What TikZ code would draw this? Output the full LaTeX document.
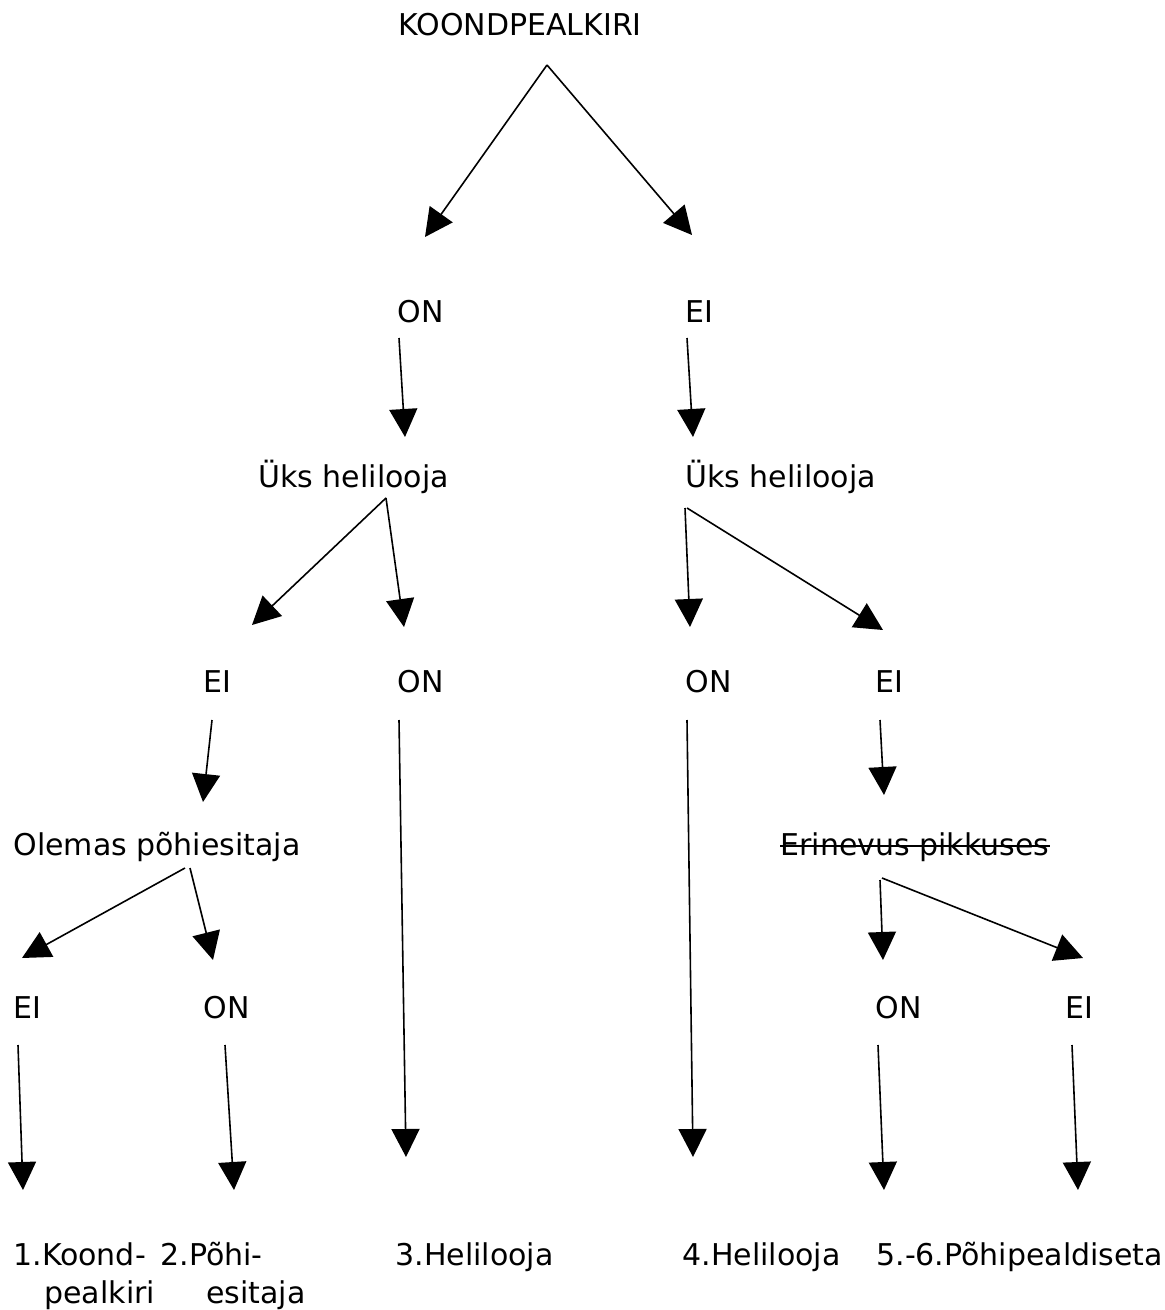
\documentclass[tikz,border=0pt]{standalone}
\usepackage{fontspec}
\setmainfont{DejaVu Sans}
\usetikzlibrary{arrows.meta}
\tikzstyle{lbl} = [inner sep=0pt,anchor=base west,font=\fontsize{15}{19}\selectfont]
\tikzstyle{arr} = [-{Triangle[length=14pt,width=14pt]},line width=0.8pt]

\begin{document}
\begin{tikzpicture}[x=0.5pt,y=-0.5pt]
			\useasboundingbox (0,0) rectangle (1165,1310);
			\node [lbl](koond) at (398,36){KOONDPEALKIRI};
			\node [lbl](on1) at (397,322){ON};
			\node [lbl](ei1) at (685,322){EI};
			\node [lbl](heliL) at (258,487){Üks helilooja};
			\node [lbl](heliR) at (685,487){Üks helilooja};
			\node [lbl](eiLL) at (203,692){EI};
			\node [lbl](onLR) at (397,692){ON};
			\node [lbl](onRL) at (685,692){ON};
			\node [lbl](eiRR) at (875,692){EI};
			\node [lbl](esit) at (13,855){Olemas põhiesitaja};
			\node [lbl](pikk) at (780,855){Erinevus pikkuses};
			\node [lbl](eiA) at (13,1018){EI};
			\node [lbl](onB) at (203,1018){ON};
			\node [lbl](onC) at (875,1018){ON};
			\node [lbl](eiD) at (1065,1018){EI};
			\node [lbl,align=left](r1) at (13,1303){1.Koond-\\\hspace*{15.5pt}pealkiri};
			\node [lbl,align=left](r2) at (160,1303){2.Põhi-\\\hspace*{23pt}esitaja};
			\node [lbl](r3) at (395,1265){3.Helilooja};
			\node [lbl](r4) at (682,1265){4.Helilooja};
			\node [lbl](r56) at (876,1265){5.-6.Põhipealdiseta};
			\draw[line width=0.8pt]([yshift=4.5pt]pikk.base west)--([yshift=4.5pt]pikk.base east);

			\coordinate (k0) at (547,65);
			\coordinate (k1) at (425,237);
			\coordinate (k2) at (692,235);
			\coordinate (on1s) at (399,338);
			\coordinate (on1e) at (405,437);
			\coordinate (ei1s) at (687,338);
			\coordinate (ei1e) at (693,437);
			\coordinate (hL0) at (386,498);
			\coordinate (hL1) at (252,625);
			\coordinate (hL2) at (404,627);
			\coordinate (hR0) at (685,508);
			\coordinate (hR0b) at (687,508);
			\coordinate (hR1) at (690,627);
			\coordinate (hR2) at (883,630);
			\coordinate (eiLLs) at (212,720);
			\coordinate (eiLLe) at (203,802);
			\coordinate (onLRs) at (399,720);
			\coordinate (onLRe) at (406,1157);
			\coordinate (onRLs) at (687,720);
			\coordinate (onRLe) at (693,1157);
			\coordinate (eiRRs) at (880,720);
			\coordinate (eiRRe) at (884,795);
			\coordinate (es0) at (185,868);
			\coordinate (es0b) at (190,868);
			\coordinate (es1) at (22,958);
			\coordinate (es2) at (213,960);
			\coordinate (pk0) at (880,880);
			\coordinate (pk0b) at (882,878);
			\coordinate (pk1) at (883,960);
			\coordinate (pk2) at (1083,958);
			\coordinate (eiAs) at (18,1045);
			\coordinate (eiAe) at (23,1190);
			\coordinate (onBs) at (225,1045);
			\coordinate (onBe) at (234,1190);
			\coordinate (onCs) at (878,1045);
			\coordinate (onCe) at (884,1190);
			\coordinate (eiDs) at (1072,1045);
			\coordinate (eiDe) at (1078,1190);

			\draw[arr](k0)--(k1);
			\draw[arr](k0)--(k2);
			\draw[arr](on1s)--(on1e);
			\draw[arr](ei1s)--(ei1e);
			\draw[arr](hL0)--(hL1);
			\draw[arr](hL0)--(hL2);
			\draw[arr](hR0)--(hR1);
			\draw[arr](hR0b)--(hR2);
			\draw[arr](eiLLs)--(eiLLe);
			\draw[arr](onLRs)--(onLRe);
			\draw[arr](onRLs)--(onRLe);
			\draw[arr](eiRRs)--(eiRRe);
			\draw[arr](es0)--(es1);
			\draw[arr](es0b)--(es2);
			\draw[arr](pk0)--(pk1);
			\draw[arr](pk0b)--(pk2);
			\draw[arr](eiAs)--(eiAe);
			\draw[arr](onBs)--(onBe);
			\draw[arr](onCs)--(onCe);
			\draw[arr](eiDs)--(eiDe);
\end{tikzpicture}
\end{document}
